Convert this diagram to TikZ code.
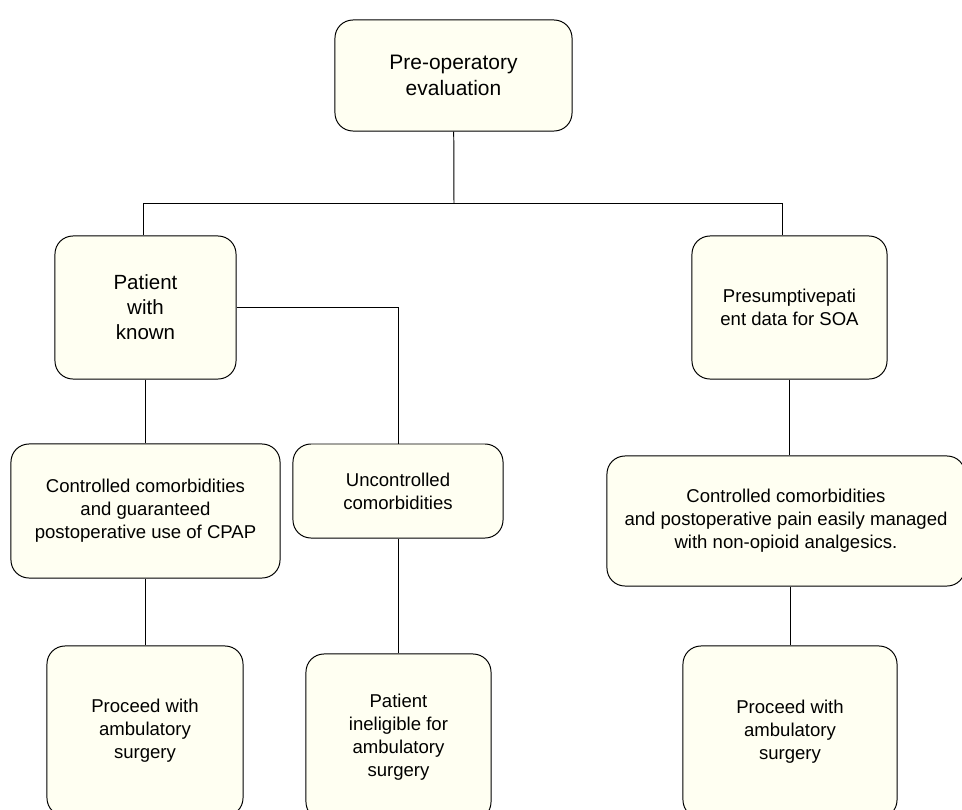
\documentclass[tikz,border=0pt]{standalone}
\usepackage{fontspec}
\setmainfont{Liberation Sans}
\usepackage{xcolor}
\usepackage{tikz}
\usetikzlibrary{positioning}
\definecolor{cream}{RGB}{255,255,242}
\tikzset{blk/.style={draw,fill=cream,rounded corners=0.45cm,line width=0.7pt,inner sep=0pt,align=center,font=\fontsize{13.2}{16.3}\selectfont}}
\tikzset{wire/.style={line width=0.7pt}}

\begin{document}
\begin{tikzpicture}[x=0.025cm,y=-0.025cm]
    \useasboundingbox (0,0) rectangle (962,810);
    \clip (0,0) rectangle (962,810);

    \node[blk,minimum width=5.925cm,minimum height=2.775cm,font=\fontsize{14.9}{18.4}\selectfont] (pre)at (453.5,75.5) {Pre-operatory\\evaluation};
    \node[blk,minimum width=4.525cm,minimum height=3.575cm,font=\fontsize{14.6}{17.7}\selectfont] (patient)at (145.5,307.5) {Patient\\with\\known};
    \node[blk,minimum width=4.875cm,minimum height=3.575cm] (presum)at (789.5,307.5) {Presumptivepati\\ent data for SOA};
    \node[blk,minimum width=6.725cm,minimum height=3.35cm] (ctrla)at (145.5,511) {Controlled comorbidities\\and guaranteed\\postoperative use of CPAP};
    \node[blk,minimum width=5.25cm,minimum height=2.35cm] (unctrl)at (398,491) {Uncontrolled\\comorbidities};
    \node[blk,minimum width=8.95cm,minimum height=3.25cm] (ctrlb)at (786,521) {Controlled comorbidities\\and postoperative pain easily managed\\with non-opioid analgesics.};
    \node[blk,minimum width=4.9cm,minimum height=4.25cm] (proca)at (145,731) {Proceed with\\ambulatory\\surgery};
    \node[blk,minimum width=4.625cm,minimum height=4.15cm] (inelig)at (398.5,737) {Patient\\ineligible for\\ambulatory\\surgery};
    \node[blk,minimum width=5.35cm,minimum height=4.3cm] (procb)at (790,732) {Proceed with\\ambulatory\\surgery};

    \coordinate (bar)at (454,203);
    \coordinate (jl)at (143,203);
    \coordinate (jr)at (782,203);

    \draw [wire] (pre) to [] (bar);
    \draw [wire] (jl) to [] (jr);
    \draw [wire] (jl) to [] (jl |- patient.north);
    \draw [wire] (jr) to [] (jr |- presum.north);
    \draw [wire] (patient) to [] (patient |- ctrla.north);
    \draw [wire] (patient.east) -| (unctrl.north);
    \draw [wire] (ctrla.south -| proca) to [] (proca);
    \draw [wire] (unctrl) to [] (unctrl |- inelig.north);
    \draw [wire] (presum.south) to [] (presum.south |- ctrlb.north);
    \draw [wire] (procb.north |- ctrlb.south) to [] (procb.north);
\end{tikzpicture}
\end{document}
